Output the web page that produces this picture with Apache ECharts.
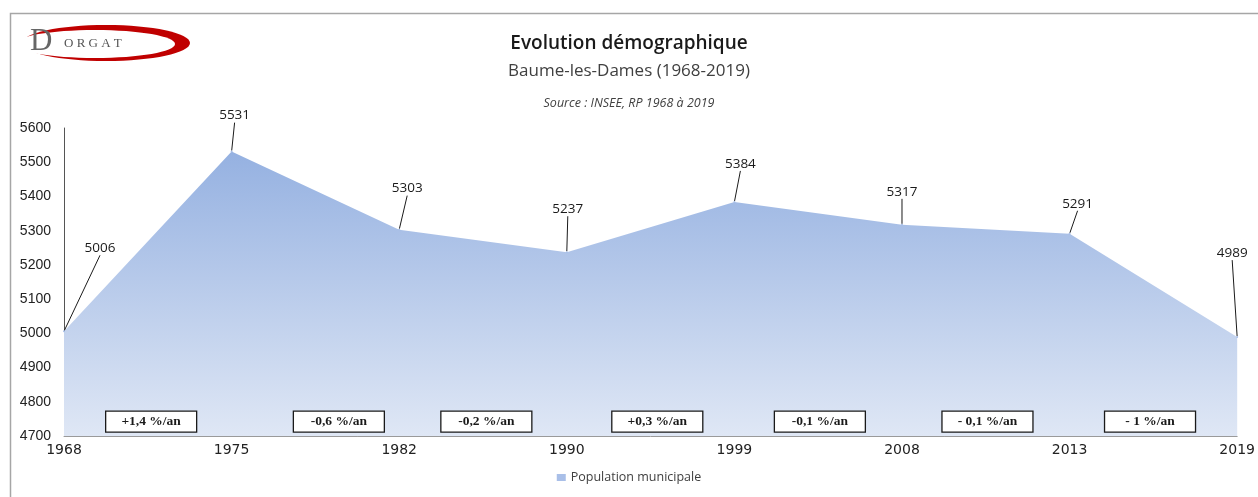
<!DOCTYPE html>
<html>
<head>
<meta charset="utf-8">
<script src="https://cdn.jsdelivr.net/npm/echarts@6/dist/echarts.min.js"></script>
<style>
  html, body { margin: 0; padding: 0; background: #fff; }
  #main { width: 1258px; height: 497px; }
</style>
</head>
<body>
<div id="main"></div>
<script>
// données
const years = ['1968', '1975', '1982', '1990', '1999', '2008', '2013', '2019']
const population = [5006, 5531, 5303, 5237, 5384, 5317, 5291, 4989]
// taux annuels entre recensements, position en index de catégorie
const rates = ['+1,4 %/an', '-0,6 %/an', '-0,2 %/an', '+0,3 %/an', '-0,1 %/an', '- 0,1 %/an', '- 1 %/an']
const ratePos = [0.52, 1.64, 2.52, 3.54, 4.51, 5.51, 6.48]
// décalage des étiquettes (px)
const labelShift = [[36, -75], [3, -28], [8, -33], [1, -35], [6, -30], [0, -25], [8, -22], [-5, -76]]

const chart = echarts.init(document.getElementById('main'))

const option = {
  animation: false,
  title: [
    {
      text: 'Evolution démographique',
      left: 'center', top: 29,
      textStyle: { fontFamily: 'Open Sans', fontSize: 19, fontWeight: 600, color: '#1a1a1a' }
    },
    {
      text: 'Baume-les-Dames (1968-2019)',
      left: 'center', top: 58,
      textStyle: { fontFamily: 'Open Sans', fontSize: 17, fontWeight: 'normal', color: '#404040' }
    },
    {
      text: 'Source : INSEE, RP 1968 à 2019',
      left: 'center', top: 92,
      textStyle: { fontFamily: 'Open Sans', fontSize: 12.5, fontStyle: 'italic', fontWeight: 'normal', color: '#404040' }
    }
  ],
  legend: {
    bottom: 8,
    left: 'center',
    itemWidth: 9,
    itemHeight: 7,
    icon: 'rect',
    textStyle: { fontFamily: 'Open Sans', fontSize: 12.5, color: '#404040' },
    data: ['Population municipale']
  },
  grid: { left: 64, right: 20, top: 128, bottom: 61 },
  xAxis: {
    type: 'category',
    boundaryGap: false,
    data: years,
    axisLine: { lineStyle: { color: '#9a9a9a', width: 1 } },
    axisTick: { show: false },
    axisLabel: { fontFamily: 'DejaVu Sans', fontSize: 14, color: '#222', margin: 7 }
  },
  yAxis: {
    type: 'value',
    min: 4700,
    max: 5600,
    interval: 100,
    splitLine: { show: false },
    axisLine: { show: true, lineStyle: { color: '#555', width: 1 } },
    axisTick: { show: false },
    axisLabel: {
      fontFamily: 'Liberation Sans', fontSize: 14, color: '#222', margin: 13,
      formatter: v => String(v)
    }
  },
  series: [
    {
      name: 'Population municipale',
      type: 'line',
      data: population,
      symbol: 'circle',
      symbolSize: 2,
      itemStyle: { color: '#a9bfe8', opacity: 1, borderWidth: 0 },
      lineStyle: { width: 0 },
      areaStyle: {
        opacity: 1,
        color: new echarts.graphic.LinearGradient(0, 0, 0, 1, [
          { offset: 0, color: '#95b1e1' },
          { offset: 1, color: '#dfe7f5' }
        ])
      },
      label: {
        show: true,
        position: 'top',
        distance: 0,
        fontFamily: 'Open Sans',
        fontSize: 13.5,
        color: '#1a1a1a'
      },
      labelLine: { show: true, lineStyle: { color: '#1a1a1a', width: 1 } },
      labelLayout: function (params) {
        const s = labelShift[params.dataIndex]
        return { dx: s[0], dy: s[1] }
      }
    }
  ]
}

chart.setOption(option)

// cadre et logo + encadrés des taux
function drawExtras () {
  const x0 = chart.convertToPixel({ xAxisIndex: 0 }, years[0])
  const x1 = chart.convertToPixel({ xAxisIndex: 0 }, years[1])
  const step = x1 - x0
  const yBox = chart.convertToPixel({ yAxisIndex: 0 }, 4745)
  const elements = [
    {
      type: 'rect', silent: true, z: 0,
      shape: { x: 10.5, y: 13.5, width: 1400, height: 700 },
      style: { fill: 'none', stroke: '#a6a6a6', lineWidth: 1.5 }
    },
    {
      type: 'ellipse', silent: true,
      shape: { cx: 106, cy: 43, rx: 84, ry: 18 },
      style: { fill: '#c00000' }
    },
    {
      type: 'ellipse', silent: true,
      shape: { cx: 95, cy: 44, rx: 80, ry: 14 },
      style: { fill: '#fff' }
    },
    {
      type: 'text', silent: true,
      x: 30, y: 26,
      style: { text: 'D', fontFamily: 'Liberation Serif', fontSize: 31, fill: '#666' }
    },
    {
      type: 'text', silent: true,
      x: 64, y: 37,
      style: { text: 'O R G A T', fontFamily: 'Liberation Serif', fontSize: 13, fill: '#555' }
    }
  ]
  rates.forEach((r, i) => {
    const cx = x0 + ratePos[i] * step
    elements.push({
      type: 'group',
      z: 100,
      x: cx - 46,
      y: yBox - 10,
      children: [
        {
          type: 'rect', z: 100,
          shape: { x: 0.5, y: 0.5, width: 91, height: 21 },
          style: { fill: '#fff', stroke: '#1a1a1a', lineWidth: 1.3 }
        },
        {
          type: 'text', z: 101,
          x: 46, y: 11,
          style: {
            text: r, align: 'center', verticalAlign: 'middle',
            fontFamily: 'Liberation Serif', fontWeight: 'bold', fontSize: 13.5, fill: '#1a1a1a'
          }
        }
      ]
    })
  })
  chart.setOption({ graphic: { elements: elements } })
}
drawExtras()
</script>
</body>
</html>
